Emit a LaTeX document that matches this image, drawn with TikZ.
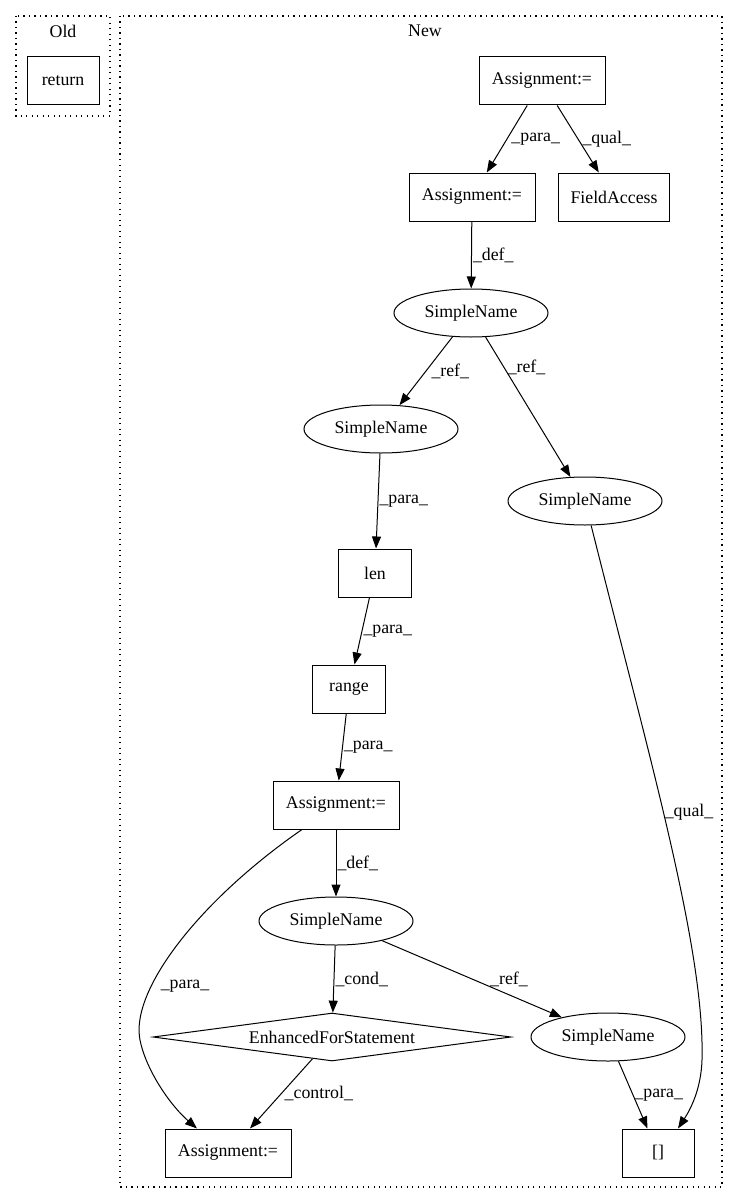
\documentclass[tikz,border=0pt]{standalone}
\usepackage{fontspec}
\setmainfont{Liberation Serif}
\usepackage{tikz}
\usetikzlibrary{arrows.meta, shapes.geometric}
\definecolor{inkblack}{RGB}{0, 0, 0}

\tikzset{
  every node/.style={font=\fontsize{17.8}{21}\selectfont, text=inkblack},
  box/.style={draw=inkblack, line width=1pt, rectangle, inner sep=0pt, minimum height=48pt, minimum width=#1},
  box/.default=126pt,
  oval/.style={draw=inkblack, line width=1pt, ellipse, inner sep=0pt, minimum width=154pt, minimum height=48pt},
  rhomb/.style={draw=inkblack, line width=1pt, diamond, aspect=7.5, inner sep=0pt, minimum width=358pt, minimum height=48pt},
  edge/.style={draw=inkblack, line width=1pt, -{Triangle[length=12pt, width=9pt]}},
  lbl/.style={inner sep=1pt},
  cluster/.style={draw=inkblack, line width=1.2pt, dash pattern=on 1.2pt off 4.3pt}
}

\begin{document}
\begin{tikzpicture}[x=1pt, y=-1pt]
  \useasboundingbox (0,0) rectangle (739,1204);
  % Clusters
  \draw[cluster] (16,16) rectangle (110,116);
  \draw[cluster] (120,16) rectangle (722,1187);
  \node (oldtitle) at (63,31) {Old};
  \node (newtitle) at (425,31) {New};
  % Old side
  \node[box=72pt] (retstmt) at (63,81) {return};
  % New side - nodes
  \node[box] (asgtop) at (542,81) {Assignment:=};
  \node[box] (asgpara) at (472,197) {Assignment:=};
  \node[box=111pt] (fieldacc) at (614,197) {FieldAccess};
  \node[oval] (sname1) at (471,313) {SimpleName};
  \node[oval] (sname2) at (381,429) {SimpleName};
  \node[oval] (sname3) at (585,501) {SimpleName};
  \node[box=73pt] (lenbox) at (375,573) {len};
  \node[box=73pt] (rangebox) at (349,689) {range};
  \node[box] (asgloop) at (336,805) {Assignment:=};
  \node[oval] (sname4) at (336,921) {SimpleName};
  \node[rhomb] (forstmt) at (332,1037) {EnhancedForStatement};
  \node[oval] (sname5) at (608,1037) {SimpleName};
  \node[box] (asgbody) at (228,1153) {Assignment:=};
  \node[box=72pt] (arracc) at (658,1153) {[]};
  % New side - edges
  \draw[edge] (asgtop) -- node[lbl, right, xshift=3pt] {\_para\_} (asgpara);
  \draw[edge] (asgtop) -- node[lbl, right, xshift=3pt] {\_qual\_} (fieldacc);
  \draw[edge] (asgpara) -- node[lbl, right] {\_def\_} (sname1);
  \draw[edge] (sname1) -- node[lbl, right, xshift=4pt] {\_ref\_} (sname2);
  \draw[edge] (sname1) -- node[lbl, pos=0.22, right, xshift=2pt] {\_ref\_} (sname3);
  \draw[edge] (sname2) -- node[lbl, right] {\_para\_} (lenbox);
  \draw[edge] (lenbox) -- node[lbl, right] {\_para\_} (rangebox);
  \draw[edge] (rangebox) -- node[lbl, right] {\_para\_} (asgloop);
  \draw[edge] (asgloop) -- node[lbl, right] {\_def\_} (sname4);
  \draw[edge] (sname4) -- node[lbl, right] {\_cond\_} (forstmt);
  \draw[edge] (sname4) -- node[lbl, xshift=37pt] {\_ref\_} (sname5);
  \draw[edge] (forstmt) -- node[lbl, right, xshift=2pt] {\_control\_} ([xshift=22pt]asgbody.north);
  \draw[edge] (sname5) -- node[lbl, right] {\_para\_} (arracc);
  % Curved edges
  \draw[edge] ([xshift=-34pt]asgloop.south) .. controls (200,900) and (130,990) .. (140,1040)
    node[lbl, pos=0.7, right, xshift=8pt] {\_para\_}
    .. controls (146,1070) and (170,1105) .. ([xshift=-31pt]asgbody.north);
  \draw[edge] (sname3) .. controls (650,760) and (705,950) .. (702,1060)
    node[lbl, pos=0.45, right] {\_qual\_}
    .. controls (701,1090) and (690,1110) .. ([xshift=20pt]arracc.north);
\end{tikzpicture}
\end{document}
